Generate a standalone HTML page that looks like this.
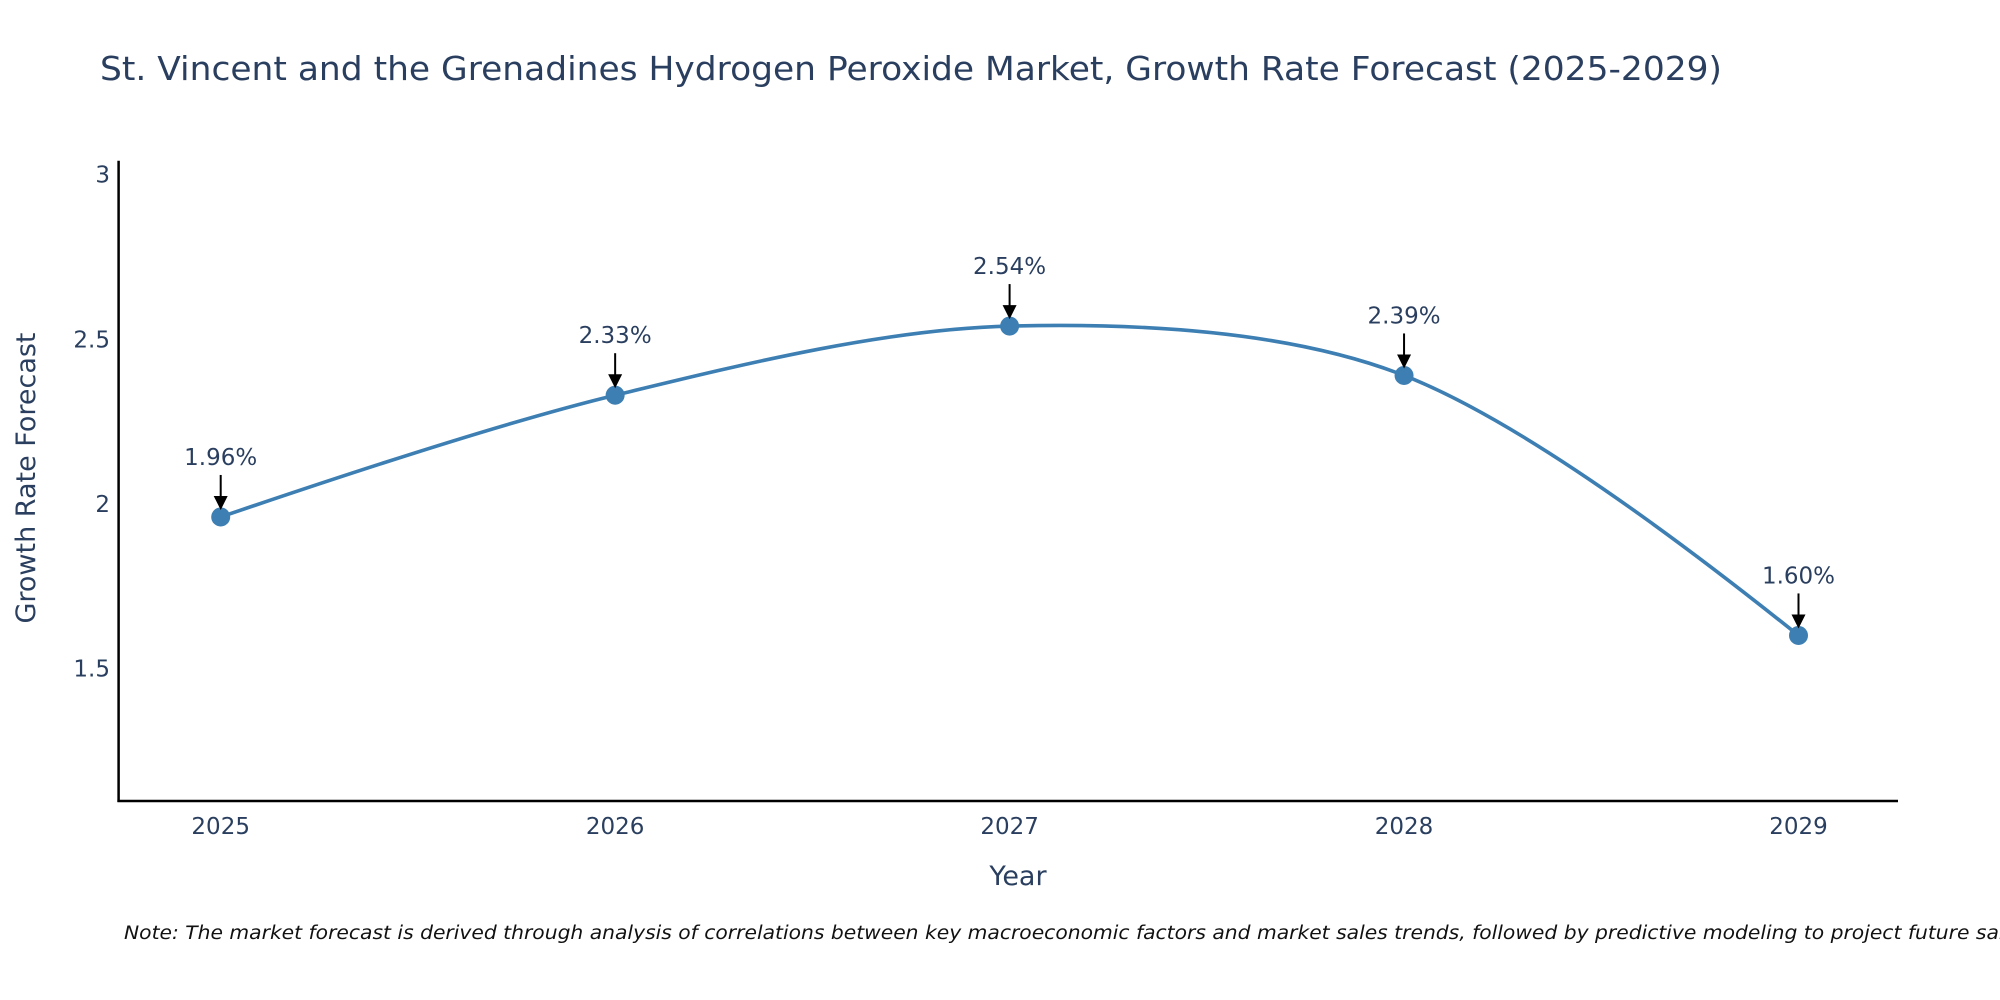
<!DOCTYPE html>
<html><head><meta charset="utf-8"><style>
html,body{margin:0;padding:0;background:#fff;}
svg{display:block;font-family:"DejaVu Sans","Liberation Sans",sans-serif;}
</style></head><body>
<svg id="chart" width="2000" height="1000" viewBox="0 0 2000 1000">
<text x="100" y="80" font-size="33" fill="#2a3f5f" textLength="1622" lengthAdjust="spacingAndGlyphs">St. Vincent and the Grenadines Hydrogen Peroxide Market, Growth Rate Forecast (2025-2029)</text>
<g id="axes"></g>
<g id="series"></g>
<g id="annotations"></g>
<text x="1018" y="885" font-size="27" fill="#2a3f5f" text-anchor="middle">Year</text>
<text transform="translate(35,478) rotate(-90)" font-size="27" fill="#2a3f5f" text-anchor="middle">Growth Rate Forecast</text>
<text x="124" y="939" font-size="18.5" font-style="italic" fill="#111" textLength="1910" lengthAdjust="spacingAndGlyphs">Note: The market forecast is derived through analysis of correlations between key macroeconomic factors and market sales trends, followed by predictive modeling to project future sales.</text>
</svg>
<script>
const years = [2025, 2026, 2027, 2028, 2029];
const growth = [1.96, 2.33, 2.54, 2.39, 1.60];
const labels = ["1.96%", "2.33%", "2.54%", "2.39%", "1.60%"];
const yTicks = [1.5, 2, 2.5, 3];
const yTickLabels = ["1.5", "2", "2.5", "3"];

const NS = "http://www.w3.org/2000/svg";
const X0 = 220.7, XSTEP = 394.45;
function xs(v){ return X0 + (v - years[0]) * XSTEP; }
function ys(v){ return 503.8 - (v - 2) * 329.1; }
function mk(tag, attrs, parent){ const e=document.createElementNS(NS,tag); for(const k in attrs) e.setAttribute(k,attrs[k]); parent.appendChild(e); return e; }

const axes = document.getElementById('axes');
const yl = mk('line',{x1:118.6,y1:160.7,x2:118.6,y2:802,stroke:'#000','stroke-width':2.5},axes);


const xl = mk('line',{x1:117.4,y1:801,x2:1898,y2:801,stroke:'#000','stroke-width':2.5},axes);


yTicks.forEach((t,i)=>{
  const tx = mk('text',{x:110,y:ys(t)+8,'font-size':23,fill:'#2a3f5f','text-anchor':'end'},axes);
  tx.textContent = yTickLabels[i];
  
  
});
years.forEach(yr=>{
  const tx = mk('text',{x:xs(yr),y:834,'font-size':23,fill:'#2a3f5f','text-anchor':'middle'},axes);
  tx.textContent = String(yr);
  
  
});

const pts = years.map((yr,i)=>[xs(yr), ys(growth[i])]);
const n = pts.length, k = 0.32;
const tan = pts.map((p,i)=>{
  if(i===0||i===n-1) return null;
  const a=pts[i-1], b=pts[i+1];
  const d1=Math.hypot(p[0]-a[0],p[1]-a[1]), d2=Math.hypot(b[0]-p[0],b[1]-p[1]);
  const dx=b[0]-a[0], dy=b[1]-a[1];
  return {in:[p[0]-dx*k*d1/(d1+d2), p[1]-dy*k*d1/(d1+d2)], out:[p[0]+dx*k*d2/(d1+d2), p[1]+dy*k*d2/(d1+d2)]};
});
let d = `M${pts[0][0]},${pts[0][1]}`;
for(let i=1;i<n;i++){
  const p=pts[i];
  if(i===1 && n>2) d += ` Q${tan[1].in[0]},${tan[1].in[1]} ${p[0]},${p[1]}`;
  else if(i===n-1) d += ` Q${tan[n-2].out[0]},${tan[n-2].out[1]} ${p[0]},${p[1]}`;
  else d += ` C${tan[i-1].out[0]},${tan[i-1].out[1]} ${tan[i].in[0]},${tan[i].in[1]} ${p[0]},${p[1]}`;
}
const series = document.getElementById('series');
const line = mk('path',{d:d,fill:'none',stroke:'#3d7fb3','stroke-width':3.6},series);


pts.forEach(p=>{
  const c = mk('circle',{cx:p[0],cy:p[1],r:9.5,fill:'#3d7fb3'},series);
  
  
});

const ann = document.getElementById('annotations');
pts.forEach((p,i)=>{
  const top = p[1]-42, tip = p[1]-8;
  const l = mk('line',{x1:p[0],y1:top,x2:p[0],y2:tip-10,stroke:'#000','stroke-width':2},ann);
  
  
  const h = mk('polygon',{points:`${p[0]-7},${tip-13} ${p[0]+7},${tip-13} ${p[0]},${tip+1}`,fill:'#000'},ann);
  
  
  const t = mk('text',{x:p[0],y:top-10,'font-size':23,fill:'#2a3f5f','text-anchor':'middle'},ann);
  t.textContent = labels[i];
  
  
});
</script>
</body></html>
